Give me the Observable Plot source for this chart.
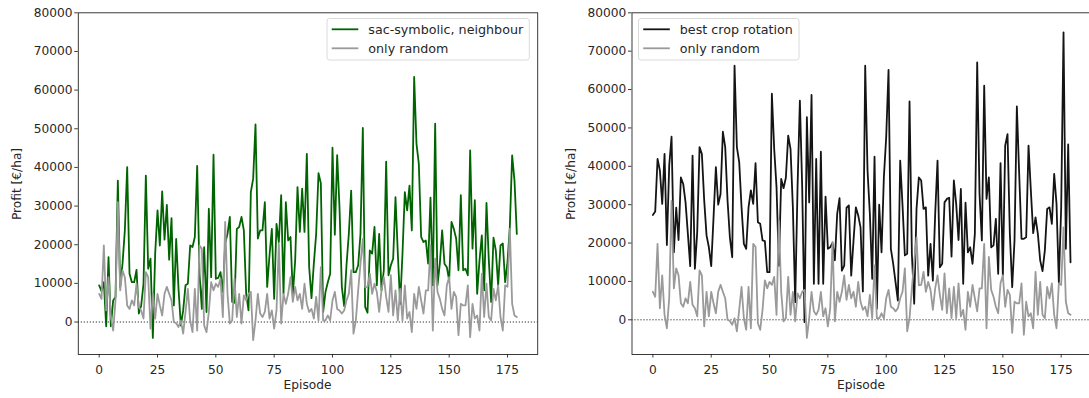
<!DOCTYPE html>
<html>
<head>
<meta charset="utf-8">
<script src="https://cdn.jsdelivr.net/npm/d3@7"></script>
<script src="https://cdn.jsdelivr.net/npm/@observablehq/plot@0.6"></script>
<style>
  html, body { margin: 0; padding: 0; background: #fff; }
  #wrap { position: relative; width: 1089px; height: 398px; overflow: hidden; background: #fff; }
  .panel { position: absolute; top: 0; }
  .panel svg { max-width: none !important; display: block; }
</style>
</head>
<body>
<div id="wrap">
  <div class="panel" id="left" style="left:0px;width:545px;"></div>
  <div class="panel" id="right" style="left:545px;width:547px;"></div>
</div>
<script>
const episodes = d3.range(180);

const sacSymbolic = [
  9500, 8000, 10300, -1100, 16800, -1100, 5600, 6500, 36600, 9000,
  15100, 23700, 40100, 12500, 10300, 10300, 13500, 2200, 4300, 9900,
  37900, 13800, 16400, -4100, 17700, 28900, 19800, 33800, 21300, 30300,
  16100, 26900, 4300, 21500, 8600, -900, 3000, 9500, 9900, 19800,
  19400, 22000, 40400, 12500, 3400, 19400, 2600, 29300, 11600, 43300,
  11200, 11400, 12900, 7800, 20300, 22800, 27200, 5200, 5000, 24100,
  24600, 27200, 23700, 7300, 3000, 33600, 37100, 51100, 21600, 23700,
  23700, 31000, 9100, 17200, 24100, 6000, 25400, 20700, 32800, 7300,
  31000, 21100, 22000, 7100, 15900, 34900, 23300, 34500, 23300, 43500,
  14200, 6200, 15100, 22800, 38500, 35900, 2600, 7800, 10300, 12500,
  45100, 22600, 43200, 29700, 9100, 4100, 14700, 22800, 34000, 12900,
  12900, 14700, 22800, 50200, 3900, 2400, 18500, 17700, 24600, 9500,
  22800, 8200, 13400, 41500, 12100, 14700, 16400, 32300, 17700, 4700,
  17700, 33600, 28900, 35300, 23700, 63400, 46100, 40900, 22000, 20700,
  21100, 15100, 32200, 9500, 51300, 9500, 15100, 23700, 15100, 14200,
  10800, 25900, 24100, 21600, 13400, 32800, 13400, 13800, 12100, 44400,
  19000, 31500, 7300, 15900, 22400, 8200, 30800, 15900, 5200, 21800,
  18500, 9500, 19800, 20300, 10300, 15500, 24600, 43100, 36600, 22800
];

const bestRotation = [
  27300, 28200, 41900, 38900, 30200, 43200, 19500, 40200, 47700, 17600,
  29200, 20800, 37100, 35400, 30600, 22400, 14000, 42800, 13300, 22800,
  45000, 43200, 31100, 22000, 18900, 14000, 26700, 39800, 30000, 32800,
  49000, 45000, 31100, 21500, 16300, 66200, 45000, 41100, 29300, 19800,
  18500, 29300, 33700, 30200, 40800, 25400, 25000, 20700, 20500, 12400,
  12400, 58900, 44500, 34500, 14100, 36700, 34300, 37000, 48000, 44500,
  29300, 4600, 34500, 57100, 34500, -600, 52800, 30600, 58600, 9400,
  41900, 9400, 43800, 9400, 32100, 18500, 18900, 20000, 15500, 27600,
  31700, 12800, 14100, 29200, 29800, 11500, 20700, 29300, 27200, 24100,
  7400, 66200, 38900, 27600, 10700, 42500, 2900, 30000, 17600, 37100,
  47600, 65100, 18500, 14600, 9800, 5000, 41500, 29800, 16800, 17200,
  56900, 17200, 4200, 28900, 37100, 36300, 28900, 29300, 11500, 19800,
  10200, 27600, 41500, 13700, 14600, 30600, 31500, 31800, 16500, 36300,
  30200, 20800, 34100, 9400, 30500, 17600, 18900, 14600, 22400, 67100,
  32800, 20700, 61000, 31500, 37100, 18900, 19400, 26300, 12000, 40800,
  11500, 45400, 48400, 22400, 8500, 20700, 55600, 38000, 21100, 21100,
  21500, 45400, 33700, 22600, 26700, 22400, 15500, 12700, 18100, 28900,
  29300, 25000, 38000, 30200, 9800, 29300, 74900, 18500, 45700, 15000
];

const onlyRandom = [
  7300, 6000, 19800, 3000, 11600, 1300, -2200, 5600, 31000, 8200,
  13400, 11600, 4300, 3400, 5600, 4300, 9900, 3900, 3000, 900,
  12900, 11600, -1700, 7300, 900, 7300, 4300, 1700, 7300, 9100,
  7300, 5600, 0, -300, -1300, 400, -3000, 2600, 8600, 400,
  -2600, 8600, -2200, 19800, 19000, -900, -2600, 2600, 10300, 8200,
  9900, 9100, 11200, 1300, 25900, 7300, -400, 400, 11200, 1300,
  7300, -400, 6900, 5600, 7300, 7800, -4700, 400, 7300, 2200,
  1300, 2600, 7300, 900, 3000, -1700, 3000, 20300, -400, 7300,
  4700, 7300, 11600, 5200, 9100, 5600, 7300, 3400, 9900, 4700,
  2600, 3400, 900, 6500, 400, 14200, 400, 400, 1700, 400,
  5600, 7800, 3400, 3000, 2200, 3000, 5600, 7300, 13400, -3000,
  400, 8200, 15100, 21500, 9000, 9100, 12500, 7300, 9900, 7800,
  2600, 8200, 11600, 6500, 2600, 12100, 1700, 8200, 400, 8600,
  400, 9500, 900, 2600, -2600, 7300, 3400, 9100, 5600, 2200,
  8200, 8200, 19800, -2200, 16400, 7800, 6000, 3400, 1700, 9500,
  11600, 3400, 7800, 6500, -3400, 4700, 4300, 4300, 9500, -3900,
  4700, 900, 1700, -2200, 12500, 1300, 9900, 1300, 400, 8600,
  5600, 9500, 1300, -2200, 9500, 9100, 24100, 4700, 1700, 1300
];

const xTicks = [0, 25, 50, 75, 100, 125, 150, 175];
const yTicks = [0, 10000, 20000, 30000, 40000, 50000, 60000, 70000, 80000];
const leftLegend = ["sac-symbolic, neighbour", "only random"];
const rightLegend = ["best crop rotation", "only random"];
const xLabel = "Episode";
const yLabel = "Profit [€/ha]";

const GREEN = "#006400", GRAY = "#9a9a9a", BLACK = "#141414", INK = "#262626";
const FONT = "DejaVu Sans, sans-serif";
const FS = 12.2;
const LFS = 12.7;
const LW = 1.8;

function makePanel({width, marginLeft, marginRight, yDomain, series}) {
  const rows = s => episodes.map((e, i) => ({episode: e, value: s[i]}));
  return Plot.plot({
    width, height: 398,
    marginLeft, marginRight, marginTop: 12.3, marginBottom: 44,
    x: {domain: [-8.95, 187.95]},
    y: {domain: yDomain},
    style: {fontFamily: FONT, fontSize: FS + "px", color: INK, background: "white", overflow: "visible"},
    marks: [
      Plot.ruleY([0], {stroke: "#000", strokeWidth: 1, strokeDasharray: "1,2"}),
      ...series.map(s => Plot.line(rows(s.values), {x: "episode", y: "value", stroke: s.color, strokeWidth: LW, strokeLinejoin: "round"})),
      Plot.frame({stroke: INK, strokeWidth: 0.9}),
      Plot.axisX({ticks: xTicks, tickSize: 3.5, tickPadding: 7, strokeWidth: 0.9, label: null, tickFormat: d => String(d), fontSize: FS}),
      Plot.axisY({ticks: yTicks, tickSize: 3.5, tickPadding: 2.3, strokeWidth: 0.9, label: null, tickFormat: d => String(d), fontSize: FS})
    ]
  });
}

function decorate(svg, {ylabX, xlabX, legend}) {
  const g = d3.select(svg).append("g").attr("font-family", FONT).attr("font-size", FS).attr("fill", INK);
  g.append("text").attr("transform", `translate(${ylabX},184) rotate(-90)`)
    .attr("text-anchor", "middle").attr("dy", "0.35em").text(yLabel);
  g.append("text").attr("x", xlabX).attr("y", 389).attr("text-anchor", "middle").text(xLabel);
  const L = legend;
  g.append("rect").attr("x", L.x).attr("y", L.y).attr("width", L.w).attr("height", L.h)
    .attr("rx", 2.5).attr("fill", "white").attr("fill-opacity", 0.8)
    .attr("stroke", "#d6d6d6").attr("stroke-width", 0.9);
  L.items.forEach((it, i) => {
    const cy = L.y + 10.8 + i * 19;
    g.append("line").attr("x1", L.x + 4.7).attr("x2", L.x + 31.3).attr("y1", cy).attr("y2", cy)
      .attr("stroke", it.color).attr("stroke-width", LW);
    g.append("text").attr("x", L.x + 41.3).attr("y", cy).attr("dy", "0.35em")
      .attr("font-size", LFS).attr("text-anchor", "start").text(it.label);
  });
}

const leftSvg = makePanel({
  width: 545, marginLeft: 77.8, marginRight: 7.8, yDomain: [-8400, 80000],
  series: [{values: sacSymbolic, color: GREEN}, {values: onlyRandom, color: GRAY}]
});
decorate(leftSvg, {
  ylabX: 16.7, xlabX: 307.5,
  legend: {x: 327, y: 18.5, w: 202.3, h: 41.5,
    items: [{label: leftLegend[0], color: GREEN}, {label: leftLegend[1], color: GRAY}]}
});
document.getElementById("left").appendChild(leftSvg);

const rightSvg = makePanel({
  width: 547, marginLeft: 86.5, marginRight: 1.1, yDomain: [-9040, 80000],
  series: [{values: bestRotation, color: BLACK}, {values: onlyRandom, color: GRAY}]
});
decorate(rightSvg, {
  ylabX: 26, xlabX: 861 - 545,
  legend: {x: 93.5, y: 18.5, w: 160.5, h: 41.5,
    items: [{label: rightLegend[0], color: BLACK}, {label: rightLegend[1], color: GRAY}]}
});
document.getElementById("right").appendChild(rightSvg);
</script>
</body>
</html>
